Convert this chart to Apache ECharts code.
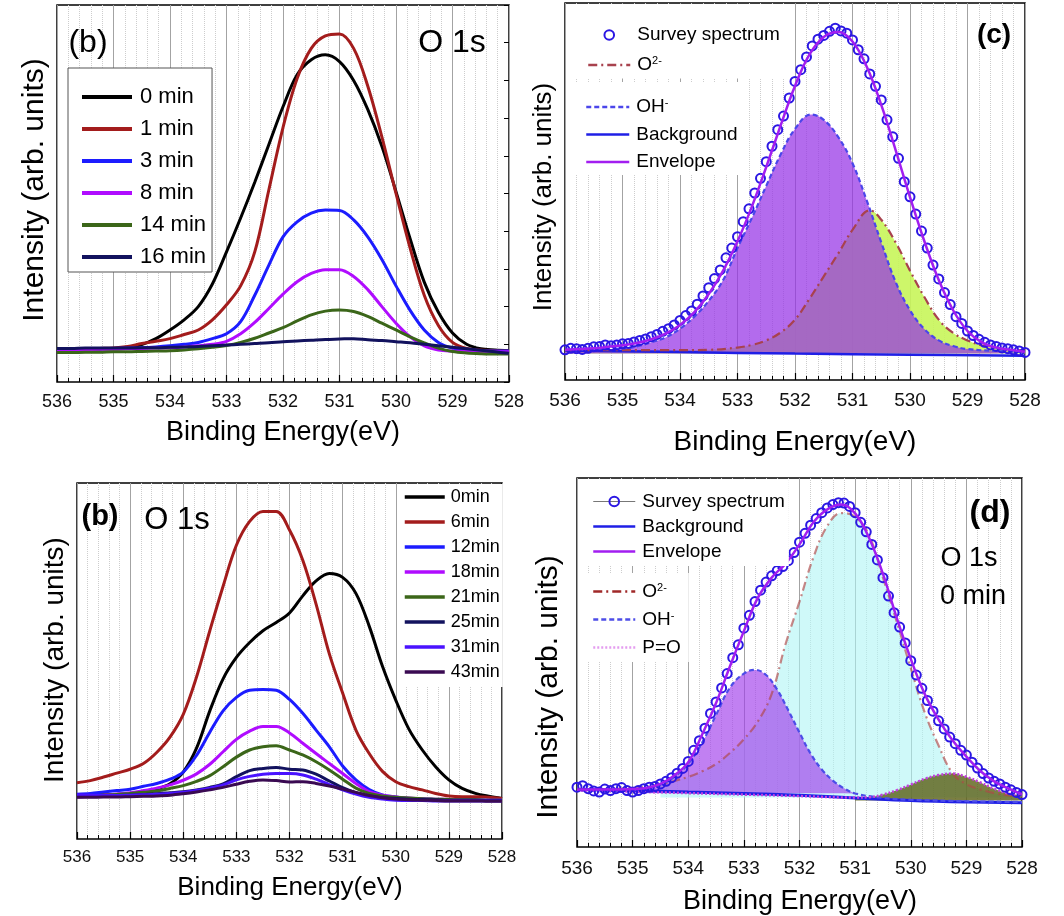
<!DOCTYPE html>
<html>
<head>
<meta charset="utf-8">
<title>O 1s XPS spectra</title>
<script src="https://cdn.jsdelivr.net/npm/echarts@6/dist/echarts.min.js"></script>
<style>
  html, body { margin: 0; padding: 0; background: #fff; }
  #chart { width: 1064px; height: 916px; }
</style>
</head>
<body>
<div id="chart"></div>
<script>
var FONT = '"Liberation Sans", Arial, Helvetica, sans-serif';

// binding energy grids (eV)
var eQ = [536,535.75,535.5,535.25,535,534.75,534.5,534.25,534,533.75,533.5,533.25,533,532.75,532.5,532.25,532,531.75,531.5,531.25,531,530.75,530.5,530.25,530,529.75,529.5,529.25,529,528.75,528.5,528.25,528];
var eT = [536,535.9,535.8,535.7,535.6,535.5,535.4,535.3,535.2,535.1,
  535,534.9,534.8,534.7,534.6,534.5,534.4,534.3,534.2,534.1,
  534,533.9,533.8,533.7,533.6,533.5,533.4,533.3,533.2,533.1,
  533,532.9,532.8,532.7,532.6,532.5,532.4,532.3,532.2,532.1,
  532,531.9,531.8,531.7,531.6,531.5,531.4,531.3,531.2,531.1,
  531,530.9,530.8,530.7,530.6,530.5,530.4,530.3,530.2,530.1,
  530,529.9,529.8,529.7,529.6,529.5,529.4,529.3,529.2,529.1,
  529,528.9,528.8,528.7,528.6,528.5,528.4,528.3,528.2,528.1,
  528];

// panel (b) top: etching time series
var p1Names = ['0 min','1 min','3 min','8 min','14 min','16 min'];
var p1Colors = ['#000000','#a31c1c','#1c1cff','#b00cff','#3b6619','#12125e'];
var p1_0 = [8.5,8.6,8.6,8.7,8.8,9.0,9.9,11.5,13.8,16.5,20.0,26.0,34.5,43.5,53.0,63.0,73.0,81.5,85.5,86.8,85.0,80.0,72.3,62.5,50.5,38.0,26.5,18.5,13.0,10.0,8.8,8.5,8.3];
var p1_1 = [8.7,8.7,8.8,8.9,9.0,9.4,10.2,10.8,11.5,12.6,13.8,16.5,20.5,25.5,34.5,51.0,67.5,80.5,88.5,91.8,92.3,88.5,78.5,65.0,50.0,35.5,23.0,15.0,10.5,8.9,8.5,8.3,8.2];
var p1_3 = [8.8,8.8,8.8,8.8,8.9,9.0,9.1,9.3,9.6,10.0,10.5,11.5,12.8,16.0,23.0,31.0,38.5,42.5,44.8,45.6,45.5,43.0,38.5,32.5,25.5,19.0,13.8,10.5,9.0,8.5,8.3,8.2,8.2];
var p1_8 = [8.6,8.6,8.6,8.7,8.7,8.8,8.9,9.0,9.1,9.3,9.6,10.0,10.8,12.8,15.8,19.5,23.3,26.6,28.8,29.8,29.8,28.0,24.5,20.0,15.6,12.0,9.6,8.5,8.2,8.1,8.1,8.0,8.0];
var p1_14 = [7.8,7.8,7.9,7.9,8.0,8.0,8.1,8.2,8.3,8.5,8.8,9.2,9.7,10.5,11.6,13.0,14.4,16.2,17.8,18.8,19.1,18.7,17.4,15.6,13.8,12.0,10.4,9.0,8.1,7.7,7.5,7.4,7.4];
var p1_16 = [8.9,8.9,9.0,9.0,9.0,9.0,9.1,9.1,9.2,9.3,9.4,9.6,9.8,10.0,10.2,10.4,10.7,10.9,11.1,11.3,11.4,11.5,11.2,11.0,10.7,10.4,10.0,9.6,9.2,8.8,8.4,8.0,7.6];
var p1Values = [p1_0, p1_1, p1_3, p1_8, p1_14, p1_16];

// panel (b) bottom
var p3Names = ['0min','6min','12min','18min','21min','25min','31min','43min'];
var p3Colors = ['#000000','#a31c1c','#1c1cff','#b00cff','#3b6619','#12125e','#4a12ff','#3a0a52'];
var p3_0 = [12.2,12.3,12.4,12.6,12.8,13.2,14.0,15.5,18.8,25.5,36.0,45.0,51.0,55.2,58.5,60.8,63.5,68.3,72.5,74.6,73.5,69.0,59.8,48.5,39.0,30.8,25.0,20.3,16.6,14.2,12.8,12.0,11.4];
var p3_6 = [15.8,16.4,17.4,18.5,19.6,21.2,24.3,28.6,35.0,45.5,58.5,71.0,82.5,89.2,92.0,92.0,86.8,78.3,66.0,52.0,41.0,30.6,24.0,19.0,16.1,14.7,13.8,12.8,12.1,11.9,11.9,11.7,11.4];
var p3_12 = [12.6,12.8,13.2,13.6,14.0,14.8,15.6,16.8,18.8,23.5,30.0,36.0,39.8,41.8,42.0,41.8,39.2,35.3,30.6,25.9,20.5,16.6,13.9,12.4,11.8,11.4,11.3,11.1,10.9,11.0,11.0,10.9,10.9];
var p3_18 = [11.8,12.0,12.3,12.6,13.0,13.6,14.3,15.2,16.5,18.3,21.0,24.5,28.0,30.3,31.6,31.6,29.8,26.9,24.0,21.2,18.4,15.6,13.3,12.3,11.8,11.5,11.3,11.2,11.1,11.0,11.0,10.9,10.9];
var p3_21 = [12.0,12.1,12.3,12.5,12.8,13.1,13.5,14.2,15.0,16.2,17.8,20.3,23.0,25.0,25.9,26.2,25.0,23.6,21.7,19.4,16.8,14.3,12.8,12.1,11.7,11.5,11.3,11.2,11.1,11.0,11.0,10.9,10.9];
var p3_25 = [11.9,12.0,12.1,12.2,12.3,12.5,12.7,13.0,13.3,13.8,14.5,15.5,17.5,19.2,19.8,20.1,19.6,19.4,18.2,16.3,14.4,13.0,12.1,11.6,11.4,11.2,11.1,11.0,10.9,10.9,10.9,10.8,10.8];
var p3_31 = [12.4,12.3,12.2,12.2,12.3,12.4,12.6,12.8,13.1,13.6,14.3,15.2,16.6,17.6,18.2,18.4,18.4,18.0,16.8,15.3,13.8,12.6,11.7,11.2,10.9,10.8,10.8,10.7,10.7,10.7,10.7,10.7,10.7];
var p3_43 = [11.7,11.7,11.8,11.8,11.9,12.0,12.1,12.3,12.7,13.2,13.8,14.5,15.4,16.2,16.6,16.4,16.0,16.1,15.6,14.9,14.0,13.1,12.2,11.6,11.2,11.0,10.9,10.8,10.7,10.7,10.7,10.6,10.6];
var p3Values = [p3_0, p3_6, p3_12, p3_18, p3_21, p3_25, p3_31, p3_43];

// panel (c): fit
var svC = [8.0,8.4,8.3,8.1,8.4,8.8,8.9,9.3,9.1,9.3,
  9.6,9.7,10.1,10.5,10.9,11.5,12.1,12.9,13.6,14.6,
  15.8,17.1,18.3,20.1,22.3,24.5,26.9,29.2,32.4,35.0,
  38.0,42.0,45.4,49.6,53.5,57.9,62.0,66.4,70.0,74.8,
  79.2,82.3,85.7,88.6,90.4,91.4,92.5,93.3,92.6,92.0,
  90.2,87.6,85.2,81.2,77.9,74.3,69.0,64.5,58.8,52.6,
  48.6,44.0,39.5,35.0,30.5,26.8,23.2,20.0,16.8,15.0,
  13.0,11.8,10.8,10.0,9.3,8.9,8.5,8.3,8.0,7.7,
  7.3];
var envC = [8.0,8.2,8.4,8.8,9.2,9.8,10.8,12.3,14.6,18.0,22.8,29.0,36.8,46.0,56.5,67.5,78.0,86.3,91.0,92.3,89.8,83.0,73.0,61.0,48.5,36.8,26.5,18.5,13.0,10.0,8.6,8.0,7.5];
var bgCE = [536,534,532,530,528];
var bgCV = [7.8,7.4,7.0,6.7,6.4];
var ohCE = [536,535.5,535,534.75,534.5,534.25,534,533.75,533.5,533.25,533,532.75,532.5,532.25,532,531.72,531.5,531.25,531,530.75,530.5,530.25,530,529.75,529.5,529.25,529,528.5,528];
var ohCV = [8.0,8.1,8.4,8.9,10.0,11.3,13.6,16.8,21.0,26.5,35.0,43.0,51.5,59.8,66.6,70.4,69.0,64.5,57.5,47.5,36.5,26.0,18.5,13.5,10.5,9.0,8.2,7.7,7.4];
var o2CE = [536,534,533.5,533,532.75,532.5,532.25,532,531.75,531.5,531.25,531,530.7,530.5,530.25,530,529.75,529.5,529.25,529,528.75,528.5,528];
var o2CV = [7.9,7.9,8.0,8.6,9.3,10.5,12.6,16.0,21.5,27.5,33.5,39.8,45.0,42.5,36.5,29.0,22.0,16.0,12.5,10.5,9.2,8.4,7.8];

// panel (d): fit
var svD = [16.2,16.6,15.8,15.2,14.9,15.7,15.3,15.8,16.1,15.3,
  14.9,15.3,15.8,16.2,16.4,17.1,17.8,18.8,20.0,21.3,
  23.2,26.2,28.8,32.2,36.2,39.3,43.1,47.0,51.3,54.8,
  59.3,62.8,66.5,69.6,71.8,73.5,74.9,76.0,77.6,79.8,
  82.6,85.0,87.2,89.0,90.6,91.9,92.8,93.3,93.2,92.3,
  90.6,88.0,85.4,82.0,77.8,73.0,68.0,63.5,59.6,55.3,
  50.5,46.6,43.0,39.7,36.8,34.2,32.0,29.8,28.0,26.2,
  24.9,23.0,21.4,19.9,18.7,17.8,17.1,16.2,15.5,14.8,
  14.2];
var envD = [15.6,15.6,15.6,15.6,15.7,16.0,17.1,19.4,23.0,30.5,39.0,49.0,58.5,67.5,73.0,76.8,82.0,88.0,91.5,92.8,90.4,83.8,74.0,62.0,51.0,41.5,34.5,28.9,24.5,20.6,17.8,15.9,14.3];
var bgDE = [536,535,534,533,532,531,530,529,528];
var bgDV = [15.6,15.3,14.9,14.5,14.0,13.3,12.6,12.2,12.0];
var ohDE = [536,535,534.75,534.5,534.25,534,533.75,533.5,533.25,533,532.8,532.6,532.4,532.2,532,531.8,531.6,531.4,531.2,531,530.5,530,529,528];
var ohDV = [15.6,15.4,15.9,16.9,19.0,22.6,28.3,35.8,43.2,47.0,48.0,46.6,42.6,37.0,31.0,25.3,21.0,18.0,15.9,14.5,13.3,12.8,12.4,12.2];
var o2DE = [536,535,534.5,534,533.75,533.5,533.25,533,532.75,532.5,532.25,532,531.75,531.5,531.25,531,530.75,530.5,530.25,530,529.75,529.5,529.25,529,528.75,528.5,528.25,528];
var o2DV = [15.6,16.0,17.0,19.0,20.5,22.5,25.5,29.2,34.0,41.5,55.0,66.5,78.5,87.0,90.5,89.5,84.5,73.0,61.0,48.5,36.5,27.5,20.0,17.0,15.6,14.6,14.0,13.5];
var poDE = [536,535,534,533,532,531,530.75,530.5,530.25,530,529.75,529.5,529.25,529,528.75,528.5,528.25,528];
var poDV = [15.3,15.0,14.6,14.2,13.8,13.4,13.5,14.2,15.4,16.9,18.5,19.5,19.9,19.0,17.5,15.8,14.5,13.9];

var legendText = {
  'c-sv': 'Survey spectrum', 'c-o2': '{n|O}{s|2-}', 'c-oh': '{n|OH}{s|-}', 'c-bg': 'Background', 'c-env': 'Envelope',
  'd-sv': 'Survey spectrum', 'd-bg': 'Background', 'd-env': 'Envelope', 'd-o2': '{n|O}{s|2-}', 'd-oh': '{n|OH}{s|-}', 'd-po': 'P=O'
};

function pairs(xs, ys) {
  return xs.map(function (x, i) { return [x, ys[i]]; });
}

function energyAxis(gi, fs, margin) {
  return {
    type: 'value', gridIndex: gi, min: 528, max: 536, interval: 1, inverse: true,
    axisLine: { show: false },
    axisTick: { show: true, inside: true, length: 7, lineStyle: { color: '#000', width: 1.2 } },
    minorTick: { show: true, splitNumber: 5, length: 4, lineStyle: { color: '#000', width: 1 } },
    axisLabel: { fontSize: fs, color: '#111', margin: margin, fontFamily: FONT },
    splitLine: { show: true, lineStyle: { color: '#a3a3a3', width: 1 } },
    minorSplitLine: { show: true, lineStyle: { color: '#cdcdcd', width: 1, type: 'dotted' } }
  };
}

function intensityAxis(gi, pos, ticks) {
  return {
    type: 'value', gridIndex: gi, position: pos, min: 0, max: 100, interval: 10,
    axisLine: { show: false }, axisLabel: { show: false }, splitLine: { show: false },
    axisTick: { show: ticks, inside: true, length: 5, lineStyle: { color: '#000' } }
  };
}

function trace(name, xi, yi, xs, ys, color, width) {
  return {
    type: 'line', name: name, xAxisIndex: xi, yAxisIndex: yi, data: pairs(xs, ys),
    smooth: 0.35, symbol: 'none', silent: true, z: 3,
    lineStyle: { color: color, width: width }, itemStyle: { color: color }
  };
}

function compLine(name, xi, yi, xs, ys, color, dash, width, z) {
  return {
    type: 'line', name: name, xAxisIndex: xi, yAxisIndex: yi, data: pairs(xs, ys),
    smooth: 0.4, symbol: 'none', silent: true, z: z || 3,
    lineStyle: { color: color, width: width, type: dash }, itemStyle: { color: color }
  };
}

function compArea(name, xi, yi, pts, fill, base) {
  return {
    type: 'line', name: name, xAxisIndex: xi, yAxisIndex: yi, data: pts,
    smooth: 0.4, symbol: 'none', silent: true, z: 1,
    lineStyle: { width: 0, opacity: 0 },
    areaStyle: { color: fill, origin: base, opacity: 1 }
  };
}

function survey(name, xi, yi, ys, lineW) {
  return {
    type: 'line', name: name, xAxisIndex: xi, yAxisIndex: yi, data: pairs(eT, ys),
    symbol: 'circle', symbolSize: 9, showSymbol: true, silent: true, z: 4,
    itemStyle: { color: 'rgba(0,0,0,0)', borderColor: '#2b17e3', borderWidth: 2 },
    lineStyle: { width: lineW, opacity: 0, color: '#777' }
  };
}

var series = [];
p1Names.forEach(function (n, i) { series.push(trace(n, 0, 0, eQ, p1Values[i], p1Colors[i], 3)); });
p3Names.forEach(function (n, i) { series.push(trace(n, 2, 3, eQ, p3Values[i], p3Colors[i], 3)); });

// panel (c)
series.push(compArea('c-o2a', 1, 2, pairs(o2CE, o2CV), 'rgba(200,245,90,0.9)', 7));
series.push(compArea('c-oha', 1, 2, pairs(ohCE, ohCV), 'rgba(150,50,230,0.72)', 7));
series.push(compLine('c-bg', 1, 2, bgCE, bgCV, '#1f1fe6', 'solid', 2.5));
series.push(compLine('c-o2', 1, 2, o2CE, o2CV, '#a8424e', [9, 4, 2, 4], 2.2));
series.push(compLine('c-oh', 1, 2, ohCE, ohCV, '#4b46ea', [5, 3], 2.2));
series.push(survey('c-sv', 1, 2, svC, 0));
series.push(compLine('c-env', 1, 2, eQ, envC, '#a21ef0', 'solid', 2.5, 5));

// panel (d): areas only over the peaked part of each component
series.push(compArea('d-o2a', 3, 4, pairs(o2DE, o2DV).slice(2), 'rgba(175,245,245,0.6)', 13.4));
series.push(compArea('d-oha', 3, 4, pairs(ohDE, ohDV).slice(1, 20), 'rgba(160,60,235,0.65)', 14.6));
series.push(compArea('d-poa', 3, 4, pairs(poDE, poDV).slice(5), 'rgba(90,95,20,0.8)', 12.6));
series.push(compLine('d-bg', 3, 4, bgDE, bgDV, '#1f1fe6', 'solid', 3));
series.push(compLine('d-o2', 3, 4, o2DE, o2DV, 'rgba(175,70,70,0.65)', [9, 4, 2, 4], 2.2));
series.push(compLine('d-oh', 3, 4, ohDE, ohDV, '#4d4de8', [5, 3], 2.2));
series.push(compLine('d-po', 3, 4, poDE, poDV, '#c23ee0', [2, 2], 2.5));
series.push(survey('d-sv', 3, 4, svD, 1));
series.push(compLine('d-env', 3, 4, eQ, envD, '#a21ef0', 'solid', 2.5, 5));

var richSup = {
  n: { fontSize: 19, lineHeight: 19, fontFamily: FONT, color: '#000' },
  s: { fontSize: 11, lineHeight: 11, verticalAlign: 'top', fontFamily: FONT, color: '#000' }
};
var hideDot = { opacity: 0 };

function fitLegend(left, top, pad, iw, gap, data) {
  return {
    orient: 'vertical', left: left, top: top, padding: pad, itemWidth: iw, itemHeight: 12, itemGap: gap,
    backgroundColor: '#fff', selectedMode: false, lineStyle: { width: 2.5 }, z: 10,
    textStyle: { fontSize: 19, lineHeight: 19, color: '#000', fontFamily: FONT, padding: [0, 0, 0, 2], rich: richSup },
    formatter: function (name) { return legendText[name]; },
    data: data
  };
}

var text = function (x, y, str, size, weight, rot) {
  return {
    type: 'text', x: x, y: y, rotation: rot || 0, silent: true, z: 100,
    style: { text: str, fontSize: size, fontWeight: weight || 'normal', fontFamily: FONT, fill: '#000', align: 'center', verticalAlign: 'middle' }
  };
};
var R = Math.PI / 2;

var option = {
  animation: false,
  backgroundColor: '#fff',
  grid: [
    { left: 57, top: 5, width: 452, height: 377, show: true, borderColor: '#000', borderWidth: 1.5, backgroundColor: 'rgba(0,0,0,0)' },
    { left: 565, top: 3, width: 460, height: 377, show: true, borderColor: '#000', borderWidth: 1.5, backgroundColor: 'rgba(0,0,0,0)' },
    { left: 77, top: 483, width: 425, height: 356, show: true, borderColor: '#000', borderWidth: 1.5, backgroundColor: 'rgba(0,0,0,0)' },
    { left: 577, top: 478, width: 445, height: 369, show: true, borderColor: '#000', borderWidth: 1.5, backgroundColor: 'rgba(0,0,0,0)' }
  ],
  xAxis: [energyAxis(0, 18, 11), energyAxis(1, 19, 11), energyAxis(2, 17, 10), energyAxis(3, 19, 12)],
  yAxis: [
    intensityAxis(0, 'left', false),
    intensityAxis(0, 'right', true),
    intensityAxis(1, 'left', false),
    intensityAxis(2, 'left', false),
    intensityAxis(3, 'left', false)
  ],
  legend: [
    {
      orient: 'vertical', left: 68, top: 68, padding: [18, 6, 4, 12], itemWidth: 50, itemHeight: 14, itemGap: 10,
      backgroundColor: '#fff', borderColor: '#555', borderWidth: 1, selectedMode: false, z: 10,
      itemStyle: { opacity: 0 }, lineStyle: { width: 4 },
      textStyle: { fontSize: 22, lineHeight: 22, color: '#000', fontFamily: FONT, padding: [0, 0, 0, 3] },
      data: p1Names
    },
    {
      orient: 'vertical', left: 398, top: 484, padding: [4, 3, 6, 5], itemWidth: 40, itemHeight: 12, itemGap: 7,
      backgroundColor: '#fff', selectedMode: false, z: 10,
      itemStyle: { opacity: 0 }, lineStyle: { width: 3.5 },
      textStyle: { fontSize: 18, lineHeight: 18, color: '#000', fontFamily: FONT, padding: [0, 0, 0, 1] },
      data: p3Names
    },
    fitLegend(566, 4, [21.5, 7, 4, 21], 42, 11, [
      { name: 'c-sv' },
      { name: 'c-o2', itemStyle: hideDot }
    ]),
    fitLegend(566, 82, [15.5, 7, 3.5, 19], 43, 8.5, [
      { name: 'c-oh', itemStyle: hideDot },
      { name: 'c-bg', itemStyle: hideDot },
      { name: 'c-env', itemStyle: hideDot }
    ]),
    fitLegend(578, 479, [13, 4, 5, 14], 42, 6, [
      { name: 'd-sv', lineStyle: { color: '#777', width: 1, opacity: 1 } },
      { name: 'd-bg', itemStyle: hideDot },
      { name: 'd-env', itemStyle: hideDot }
    ]),
    fitLegend(578, 573, [9, 8, 5, 14], 42, 9, [
      { name: 'd-o2', itemStyle: hideDot, lineStyle: { color: '#a02828', opacity: 1 } },
      { name: 'd-oh', itemStyle: hideDot },
      { name: 'd-po', itemStyle: hideDot, lineStyle: { color: '#e49cf0', opacity: 1 } }
    ])
  ],
  graphic: [
    text(88, 43, '(b)', 32),
    text(452, 43, 'O 1s', 32),
    text(35, 190, 'Intensity (arb. units)', 30, 'normal', R),
    text(283, 433, 'Binding Energy(eV)', 27),
    text(994, 35, '(c)', 28, 'bold'),
    text(544, 197, 'Intensity (arb. units)', 26, 'normal', R),
    text(795, 442, 'Binding Energy(eV)', 28),
    text(100, 517, '(b)', 29, 'bold'),
    text(177, 520, 'O 1s', 31),
    text(55, 660, 'Intensity (arb. units)', 28, 'normal', R),
    text(290, 888, 'Binding Energy(eV)', 26),
    text(990, 513, '(d)', 32, 'bold'),
    text(969, 559, 'O 1s', 27),
    text(973, 597, '0 min', 27),
    text(549, 687, 'Intensity (arb. units)', 30, 'normal', R),
    text(800, 902, 'Binding Energy(eV)', 27)
  ],
  series: series
};

var chart = echarts.init(document.getElementById('chart'));
chart.setOption(option);
</script>
</body>
</html>
